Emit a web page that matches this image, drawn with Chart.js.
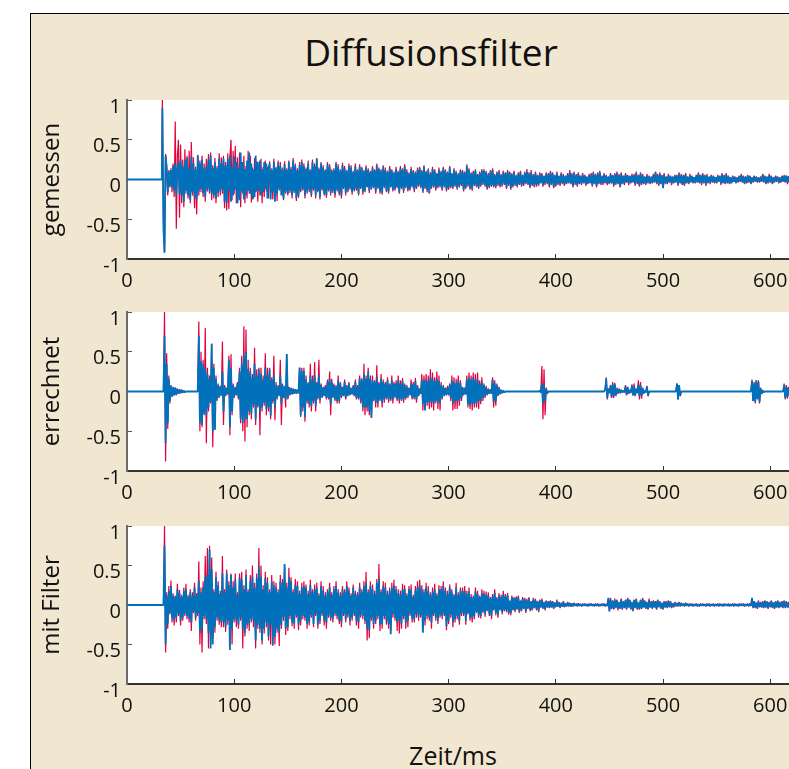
<!DOCTYPE html>
<html>
<head>
<meta charset="utf-8">
<title>Diffusionsfilter</title>
<script src="https://cdn.jsdelivr.net/npm/chart.js@4"></script>
<style>
    html, body { margin: 0; width: 789px; height: 769px; overflow: hidden; background: #fff; }
    #frame { position: absolute; left: 30px; top: 13px; width: 800px; height: 800px; background: #f1e6cf; border: 1px solid #000; }
    #heading { position: absolute; left: 231px; width: 400px; top: 26px; text-align: center; font: 37px "Open Sans", sans-serif; color: #111; }
    #xlabel { position: absolute; left: 353px; width: 200px; top: 738px; text-align: center; font: 25px "Open Sans", sans-serif; color: #111; }
    canvas { position: absolute; left: 31px; }
</style>
</head>
<body>
<div id="frame"></div>
<div id="heading">Diffusionsfilter</div>
<canvas id="panel1" width="758" height="209" style="top:90px"></canvas>
<canvas id="panel2" width="758" height="209" style="top:302px"></canvas>
<canvas id="panel3" width="758" height="209" style="top:516px"></canvas>
<div id="xlabel">Zeit/ms</div>
<script>
// samples, one per ms from 33 ms on, silence before that
// each row below is 20 ms
const START_MS = 33;
const STEP_MS = 1;
const xTicks = [0, 100, 200, 300, 400, 500, 600];
const panelNames = ['gemessen', 'errechnet', 'mit Filter'];

const measuredRed = [
    1,-.5,-.92,.32,.18,-.2,.12,-.1,.14,-.16,.2,-.22,.73,-.62,.3,.5,-.48,.44,-.3,.25,
    -.35,.38,-.18,.3,-.24,.36,-.3,.47,-.2,.28,-.36,.16,-.44,.31,-.2,.24,-.16,.3,-.22,.2,
    -.28,.26,-.15,.32,-.18,.34,-.26,.18,-.24,.27,-.3,.17,-.22,.33,-.2,.28,-.18,.3,-.36,.22,
    -.39,.33,-.37,.28,.5,-.26,.36,-.18,.42,-.3,.28,-.16,.34,-.35,.22,-.18,.3,-.3,.17,-.24,
    .36,-.18,.3,-.29,.15,-.24,.27,-.16,.23,-.28,.14,-.2,.26,-.3,.16,-.22,.24,-.15,.16,-.24,
    .23,-.18,.14,-.25,.26,-.2,.16,-.27,.24,-.14,.22,-.16,.15,-.26,.23,-.18,.14,-.2,.24,-.17,
    .16,-.24,.27,-.17,.2,-.27,.14,-.23,.22,-.16,.25,-.14,.2,-.24,.15,-.18,.24,-.16,.13,-.22,
    .25,-.14,.2,-.24,.27,-.16,.15,-.25,.22,-.14,.18,-.2,.13,-.23,.22,-.15,.19,-.2,.13,-.17,
    .14,-.23,.22,-.15,.19,-.2,.13,-.24,.21,-.12,.17,-.2,.12,-.16,.2,-.13,.18,-.19,.11,-.15,
    .2,-.14,.13,-.2,.19,-.12,.16,-.19,.12,-.16,.18,-.1,.14,-.17,.11,-.13,.17,-.11,.13,-.18,
    .2,-.12,.15,-.18,.13,-.19,.18,-.11,.15,-.16,.11,-.18,.17,-.1,.13,-.15,.1,-.14,.16,-.11,
    .11,-.18,.17,-.12,.14,-.17,.19,-.11,.13,-.15,.09,-.14,.16,-.1,.12,-.16,.1,-.12,.15,-.09,
    .16,-.11,.12,-.17,.18,-.12,.11,-.16,.14,-.18,.09,-.12,.16,-.1,.13,-.14,.08,-.11,.15,-.1,
    .11,-.14,.16,-.1,.13,-.15,.1,-.13,.17,-.11,.08,-.12,.14,-.09,.11,-.13,.08,-.1,.13,-.08,
    .12,-.15,.1,-.12,.19,-.09,.14,-.13,.09,-.14,.11,-.08,.13,-.1,.07,-.12,.1,-.09,.13,-.07,
    .13,-.09,.11,-.13,.08,-.11,.12,-.09,.14,-.1,.07,-.11,.1,-.08,.12,-.1,.07,-.09,.11,-.07,
    .09,-.12,.12,-.08,.1,-.13,.08,-.1,.11,-.08,.06,-.1,.09,-.07,.11,-.09,.06,-.08,.1,-.06,
    .13,-.07,.09,-.11,.12,-.08,.07,-.1,.1,-.09,.06,-.08,.09,-.05,.08,-.09,.05,-.07,.09,-.06,
    .08,-.1,.11,-.07,.09,-.11,.06,-.09,.1,-.07,.05,-.08,.09,-.06,.07,-.08,.05,-.06,.08,-.05,
    .12,-.06,.08,-.1,.1,-.07,.07,-.09,.09,-.06,.05,-.07,.08,-.05,.06,-.08,.04,-.06,.07,-.05,
    .08,-.09,.1,-.06,.07,-.1,.09,-.06,.11,-.07,.05,-.07,.08,-.05,.06,-.07,.04,-.06,.08,-.05,
    .06,-.09,.08,-.07,.1,-.06,.07,-.1,.09,-.06,.05,-.07,.08,-.04,.06,-.07,.05,-.05,.07,-.04,
    .07,-.08,.1,-.06,.06,-.09,.09,-.07,.07,-.06,.04,-.07,.07,-.05,.05,-.06,.04,-.05,.07,-.04,
    .1,-.06,.07,-.08,.09,-.06,.06,-.08,.08,-.06,.04,-.06,.07,-.04,.05,-.07,.04,-.05,.06,-.04,
    .06,-.08,.09,-.05,.07,-.07,.06,-.08,.08,-.05,.04,-.06,.07,-.04,.05,-.05,.03,-.05,.06,-.04,
    .09,-.05,.06,-.07,.08,-.05,.06,-.08,.07,-.05,.04,-.06,.06,-.04,.05,-.05,.03,-.05,.06,-.03,
    .05,-.07,.08,-.05,.06,-.06,.08,-.05,.05,-.06,.03,-.05,.05,-.03,.04,-.05,.03,-.04,.05,-.03,
    .07,-.04,.05,-.06,.04,-.05,.06,-.04,.05,-.06,.03,-.04,.05,-.03,.04,-.04,.03,-.04,.04,-.03,
    .07,-.04,.05,-.06,.04,-.05,.07,-.04,.05,-.06,.03,-.04,.05,-.03,.04,-.05,.03,-.04,.05,-.03,
    .06,-.04,.05,-.06,.04,-.05
];
const measuredBlue = [
    .9,-.62,-.92,.3,.14,-.16,.1,-.08,.12,-.1,.17,-.14,.2,-.2,.13,.22,-.18,.24,-.2,.16,
    -.28,.24,-.14,.27,-.2,.13,-.26,.29,-.16,.2,-.22,.12,-.25,.3,-.15,.2,-.12,.25,-.17,.14,
    -.22,.16,-.12,.25,-.15,.3,-.18,.14,-.2,.22,-.24,.14,-.17,.27,-.15,.2,-.13,.26,-.28,.18,
    -.3,.26,-.14,.3,-.28,.15,-.2,.29,-.13,.22,-.3,.14,-.26,.34,-.15,.22,-.25,.13,-.2,.24,
    -.14,.34,-.18,.2,-.25,.13,-.22,.3,-.15,.22,-.14,.24,-.2,.13,-.16,.22,-.12,.2,-.24,.14,
    .2,-.25,.12,-.16,.22,-.28,.14,-.18,.21,-.12,.17,-.2,.13,-.24,.19,-.15,.12,-.18,.22,-.14,
    .13,-.2,.24,-.15,.17,-.24,.12,-.2,.18,-.14,.22,-.12,.17,-.2,.13,-.15,.2,-.13,.11,-.19,
    .22,-.12,.17,-.2,.26,-.14,.13,-.22,.2,-.12,.15,-.18,.11,-.2,.19,-.13,.16,-.17,.11,-.14,
    .12,-.19,.2,-.13,.16,-.17,.11,-.2,.18,-.1,.14,-.17,.1,-.14,.17,-.11,.15,-.16,.09,-.13,
    .17,-.12,.11,-.18,.16,-.1,.14,-.16,.1,-.14,.15,-.09,.12,-.14,.09,-.11,.14,-.09,.11,-.15,
    .18,-.1,.13,-.15,.11,-.17,.16,-.09,.12,-.14,.09,-.15,.14,-.09,.11,-.13,.08,-.12,.13,-.09,
    .09,-.16,.14,-.1,.12,-.14,.17,-.09,.1,-.13,.07,-.12,.13,-.08,.1,-.13,.08,-.1,.12,-.07,
    .14,-.09,.1,-.15,.16,-.1,.09,-.13,.12,-.17,.07,-.1,.13,-.08,.11,-.12,.07,-.09,.12,-.08,
    .09,-.12,.14,-.08,.11,-.13,.08,-.11,.15,-.09,.07,-.1,.12,-.07,.09,-.11,.06,-.08,.11,-.06,
    .1,-.13,.08,-.1,.17,-.07,.12,-.11,.07,-.12,.09,-.06,.11,-.08,.06,-.1,.08,-.07,.11,-.05,
    .11,-.07,.09,-.11,.06,-.09,.1,-.07,.12,-.08,.05,-.09,.08,-.06,.1,-.08,.05,-.07,.09,-.05,
    .07,-.1,.1,-.06,.08,-.11,.06,-.08,.09,-.06,.04,-.08,.07,-.05,.09,-.07,.05,-.06,.08,-.04,
    .1,-.06,.07,-.09,.09,-.06,.05,-.08,.08,-.06,.04,-.06,.07,-.04,.06,-.07,.04,-.05,.07,-.04,
    .06,-.08,.09,-.05,.07,-.09,.05,-.07,.08,-.05,.04,-.06,.07,-.04,.05,-.06,.04,-.05,.06,-.04,
    .09,-.05,.06,-.08,.08,-.05,.05,-.07,.07,-.05,.04,-.05,.06,-.04,.05,-.06,.03,-.05,.05,-.04,
    .06,-.07,.08,-.05,.05,-.08,.07,-.05,.09,-.05,.04,-.05,.06,-.04,.05,-.05,.03,-.05,.06,-.04,
    .05,-.07,.06,-.05,.08,-.05,.05,-.09,.07,-.05,.04,-.05,.06,-.03,.05,-.05,.04,-.04,.05,-.03,
    .05,-.06,.08,-.04,.05,-.07,.07,-.05,.05,-.05,.03,-.05,.05,-.04,.04,-.05,.03,-.04,.05,-.03,
    .09,-.04,.05,-.06,.07,-.05,.05,-.11,.06,-.04,.03,-.05,.05,-.03,.04,-.05,.03,-.04,.05,-.03,
    .05,-.06,.07,-.04,.05,-.06,.05,-.06,.06,-.04,.03,-.05,.05,-.03,.04,-.04,.03,-.04,.05,-.03,
    .07,-.04,.05,-.05,.06,-.04,.05,-.06,.05,-.04,.03,-.04,.05,-.03,.04,-.04,.03,-.04,.04,-.02,
    .04,-.05,.06,-.04,.05,-.05,.06,-.04,.04,-.05,.02,-.04,.04,-.03,.03,-.04,.02,-.03,.04,-.02,
    .05,-.03,.04,-.05,.03,-.04,.05,-.03,.04,-.05,.02,-.03,.04,-.02,.03,-.03,.02,-.03,.03,-.02,
    .06,-.03,.04,-.05,.03,-.04,.05,-.03,.04,-.05,.02,-.03,.04,-.02,.03,-.04,.02,-.03,.04,-.02,
    .04,-.03,.05,-.03,.04,-.04
];

const computedRed = [
    0,0,1,-.88,.48,-.47,.2,-.15,.08,-.07,.06,-.05,.05,-.05,.04,-.03,.03,-.02,.02,-.02,
    .01,-.01,0,0,0,0,0,0,0,0,0,0,0,0,.88,-.5,.5,-.45,.4,-.3,
    .8,-.65,.3,-.25,.2,-.15,.6,-.7,.35,-.48,.2,-.12,.1,-.08,.07,-.05,.63,-.42,.08,-.06,
    .05,-.04,.45,-.55,.47,-.3,.1,-.08,.06,-.05,.12,-.1,.3,-.4,.45,-.5,.82,-.63,.78,-.45,
    .4,-.3,.3,-.35,.22,-.2,.55,-.42,.28,-.2,.3,-.55,.3,-.25,.2,-.18,.48,-.3,.3,-.25,
    .3,-.35,.18,-.15,.45,-.36,.12,-.1,.08,-.06,.4,-.42,.1,-.08,.07,-.2,.47,-.1,.06,-.05,
    .05,-.04,.04,-.03,.03,-.03,.02,-.02,.3,-.32,.3,-.25,.3,-.38,.2,-.15,.12,-.2,.35,-.25,
    .2,-.15,.37,-.25,.12,-.1,.4,-.15,.1,-.08,.06,-.06,.08,-.1,.15,-.1,.25,-.3,.16,-.08,
    .1,-.12,.08,-.15,.2,-.15,.12,-.08,.06,-.06,.15,-.1,.08,-.06,.12,-.05,.05,-.04,.08,-.06,
    .15,-.1,.08,-.1,.2,-.15,.17,-.25,.35,-.3,.2,-.25,.3,-.3,.2,-.33,.2,-.12,.14,-.2,
    .33,-.2,.12,-.12,.22,-.2,.15,-.14,.12,-.1,.18,-.14,.1,-.12,.2,-.15,.12,-.08,.14,-.12,
    .2,-.15,.14,-.12,.17,-.14,.1,-.1,.08,-.08,.05,-.05,.15,-.1,.12,-.1,.17,-.14,.08,-.06,
    .04,-.03,.22,-.24,.2,-.16,.22,-.18,.2,-.22,.28,-.2,.24,-.24,.18,-.15,.25,-.22,.2,-.24,
    .12,-.1,.08,-.06,.05,-.05,.07,-.05,.1,-.12,.2,-.24,.18,-.22,.16,-.22,.2,-.18,.14,-.12,
    .06,-.05,.05,-.04,.2,-.2,.24,-.22,.2,-.24,.24,-.2,.22,-.2,.24,-.22,.14,-.16,.18,-.12,
    .1,-.08,.07,-.05,.04,-.03,.03,-.03,.18,-.2,.14,-.18,.1,-.06,.06,-.04,.02,-.02,.01,-.01,
    0,0,0,0,0,0,0,0,0,0,0,0,0,0,0,0,0,0,0,0,
    0,0,0,0,0,0,0,0,0,0,0,0,.01,-.02,.32,-.35,.28,-.3,.05,-.03,
    0,0,0,0,0,0,0,0,0,0,0,0,0,0,0,0,0,0,0,0,
    0,0,0,0,0,0,0,0,0,0,0,0,0,0,0,0,0,0,0,0,
    0,0,0,0,0,0,0,0,0,0,0,0,0,.02,.18,-.1,.04,-.02,.08,-.08,
    .12,-.08,.11,-.06,.05,-.03,.04,-.02,.02,-.01,.01,-.01,.08,-.05,.06,-.03,.02,-.02,.09,-.05,
    .1,-.06,.04,-.02,.14,-.1,.12,-.09,.05,-.03,.01,-.01,.07,-.06,0,0,0,0,0,0,
    0,0,0,0,0,0,0,0,0,0,0,0,0,0,0,0,0,0,0,0,
    .1,-.1,.08,-.06,0,0,0,0,0,0,0,0,0,0,0,0,0,0,0,0,
    0,0,0,0,0,0,0,0,0,0,0,0,0,0,0,0,0,0,0,0,
    0,0,0,0,0,0,0,0,0,0,0,0,0,0,0,0,0,0,0,0,
    0,0,0,0,0,0,0,0,0,0,.15,-.12,.12,-.15,.14,-.1,.14,-.15,.05,-.03,
    .02,-.01,0,0,0,0,0,0,0,0,0,0,0,0,0,0,0,0,0,0,
    .1,-.1,.08,-.09,.06,-.06
];
const computedBlue = [
    0,0,.7,-.65,.35,-.4,.16,-.12,.07,-.06,.05,-.05,.05,-.04,.03,-.03,.02,-.02,.02,-.01,
    .01,-.01,0,0,0,0,0,0,0,0,0,0,0,0,.7,-.4,.38,-.42,.35,-.28,
    .3,-.3,.22,-.2,.16,-.13,.6,-.5,.3,-.48,.16,-.1,.08,-.07,.06,-.05,.25,-.25,.06,-.05,
    .04,-.03,.4,-.45,.3,-.25,.08,-.06,.05,-.04,.1,-.08,.25,-.35,.35,-.4,.45,-.35,.5,-.35,
    .28,-.25,.25,-.28,.18,-.16,.35,-.35,.2,-.18,.28,-.25,.22,-.2,.15,-.14,.3,-.22,.2,-.2,
    .28,-.3,.14,-.12,.2,-.2,.08,-.08,.06,-.05,.2,-.15,.08,-.07,.06,-.1,.47,-.08,.05,-.04,
    .04,-.03,.03,-.03,.03,-.02,.02,-.02,.3,-.3,.26,-.2,.26,-.32,.15,-.12,.1,-.16,.2,-.18,
    .14,-.12,.2,-.18,.1,-.08,.2,-.1,.08,-.07,.05,-.05,.06,-.08,.12,-.08,.16,-.16,.12,-.07,
    .08,-.1,.06,-.12,.14,-.12,.1,-.06,.05,-.05,.12,-.08,.06,-.05,.1,-.04,.04,-.03,.06,-.05,
    .12,-.08,.06,-.08,.16,-.12,.14,-.2,.22,-.2,.16,-.2,.25,-.25,.16,-.33,.14,-.1,.12,-.14,
    .18,-.14,.1,-.1,.16,-.14,.12,-.1,.1,-.08,.14,-.1,.08,-.1,.14,-.1,.1,-.06,.1,-.1,
    .14,-.1,.1,-.1,.13,-.1,.08,-.08,.06,-.06,.04,-.04,.1,-.08,.09,-.08,.13,-.1,.06,-.05,
    .03,-.03,.14,-.16,.15,-.24,.14,-.13,.13,-.14,.18,-.14,.16,-.15,.13,-.12,.16,-.14,.13,-.14,
    .08,-.08,.06,-.05,.04,-.04,.05,-.04,.08,-.08,.14,-.15,.12,-.12,.1,-.12,.14,-.12,.1,-.08,
    .05,-.04,.04,-.03,.15,-.16,.18,-.18,.15,-.15,.18,-.16,.15,-.15,.14,-.12,.1,-.12,.12,-.08,
    .08,-.06,.05,-.04,.03,-.03,.02,-.02,.15,-.13,.1,-.12,.08,-.05,.05,-.03,.02,-.02,.01,-.01,
    0,0,0,0,0,0,0,0,0,0,0,0,0,0,0,0,0,0,0,0,
    0,0,0,0,0,0,0,0,0,0,0,0,.01,-.01,.1,-.15,.08,-.12,.03,-.02,
    0,0,0,0,0,0,0,0,0,0,0,0,0,0,0,0,0,0,0,0,
    0,0,0,0,0,0,0,0,0,0,0,0,0,0,0,0,0,0,0,0,
    0,0,0,0,0,0,0,0,0,0,0,0,0,.02,.16,-.08,.03,-.02,.07,-.07,
    .09,-.06,.09,-.05,.03,-.02,.03,-.02,.02,-.01,.01,-.01,.06,-.04,.05,-.02,.02,-.01,.07,-.05,
    .07,-.05,.03,-.02,.08,-.06,.08,-.05,.04,-.02,.01,-.01,.06,-.05,0,0,0,0,0,0,
    0,0,0,0,0,0,0,0,0,0,0,0,0,0,0,0,0,0,0,0,
    .1,-.1,.08,-.05,0,0,0,0,0,0,0,0,0,0,0,0,0,0,0,0,
    0,0,0,0,0,0,0,0,0,0,0,0,0,0,0,0,0,0,0,0,
    0,0,0,0,0,0,0,0,0,0,0,0,0,0,0,0,0,0,0,0,
    0,0,0,0,0,0,0,0,0,0,.13,-.12,.1,-.13,.14,-.09,.12,-.13,.04,-.03,
    .01,-.01,0,0,0,0,0,0,0,0,0,0,0,0,0,0,0,0,0,0,
    .08,-.08,.06,-.07,.05,-.05
];

const filteredRed = [
    0,0,1,-.6,.16,-.3,.24,-.12,.31,-.22,.15,-.26,.12,-.22,.27,-.14,.19,-.26,.13,-.2,
    .22,-.14,.27,-.18,.13,-.22,.2,-.33,.16,-.1,.28,-.2,.15,-.14,.55,-.5,.22,-.6,.3,-.18,
    .62,-.24,.72,-.55,.75,-.3,.6,-.42,.2,-.35,.42,-.2,.3,-.25,.18,-.28,.62,-.28,.2,-.34,
    .45,-.25,.3,-.2,.4,-.5,.3,-.22,.4,-.28,.16,-.3,.4,-.2,.42,-.55,.25,-.4,.45,-.3,
    .2,-.33,.38,-.22,.5,-.28,.28,-.55,.4,-.3,.72,-.35,.5,-.5,.25,-.36,.42,-.28,.35,-.45,
    .2,-.5,.38,-.52,.3,-.5,.28,-.35,.2,-.52,.38,-.3,.33,-.2,.5,-.38,.28,-.33,.47,-.18,
    .35,-.27,.2,-.3,.33,-.16,.3,-.32,.18,-.26,.28,-.18,.3,-.2,.26,-.3,.18,-.26,.32,-.16,
    .2,-.28,.26,-.14,.28,-.3,.15,-.24,.3,-.14,.24,-.26,.16,-.3,.2,-.16,.28,-.2,.16,-.22,
    .24,-.14,.3,-.18,.2,-.24,.16,-.28,.24,-.14,.2,-.22,.3,-.16,.22,-.26,.15,-.2,.26,-.14,
    .18,-.26,.16,-.3,.28,-.16,.2,-.18,.3,-.24,.42,-.45,.2,-.42,.3,-.2,.26,-.3,.18,-.24,
    .33,-.18,.52,-.33,.2,-.3,.3,-.18,.28,-.25,.18,-.3,.22,-.33,.28,-.16,.32,-.2,.24,-.33,
    .2,-.36,.18,-.3,.27,-.18,.25,-.3,.15,-.28,.24,-.14,.26,-.22,.13,-.22,.24,-.16,.3,-.2,
    .32,-.16,.25,-.33,.2,-.26,.28,-.18,.24,-.2,.16,-.3,.22,-.14,.27,-.2,.15,-.24,.25,-.16,
    .24,-.18,.3,-.14,.22,-.32,.18,-.24,.26,-.16,.2,-.28,.14,-.22,.28,-.18,.16,-.25,.22,-.14,
    .22,-.14,.24,-.25,.18,-.12,.22,-.2,.14,-.22,.12,-.18,.22,-.1,.18,-.16,.12,-.17,.2,-.1,
    .18,-.15,.17,-.08,.16,-.14,.1,-.18,.14,-.07,.2,-.13,.1,-.16,.15,-.07,.13,-.12,.18,-.08,
    .14,-.09,.15,-.12,.06,-.13,.12,-.07,.1,-.09,.11,-.06,.12,-.1,.06,-.08,.1,-.05,.09,-.1,
    .08,-.05,.1,-.08,.05,-.07,.09,-.04,.08,-.07,.05,-.09,.07,-.03,.08,-.05,.04,-.07,.06,-.03,
    .05,-.04,.06,-.03,.05,-.05,.03,-.03,.07,-.02,.04,-.04,.03,-.02,.05,-.03,.02,-.02,.04,-.02,
    .03,-.02,.02,-.02,.03,-.01,.02,-.02,.02,-.01,.01,-.02,.02,-.01,.02,-.01,.01,-.02,.02,-.01,
    .02,-.01,.01,-.02,.02,-.01,.02,-.02,.01,-.01,.02,-.01,.02,-.02,.01,-.01,.08,-.08,.09,-.05,
    .06,-.06,.08,-.04,.07,-.07,.04,-.05,.08,-.06,.05,-.04,.07,-.06,.09,-.03,.07,-.06,.04,-.08,
    .07,-.04,.08,-.06,.03,-.06,.07,-.05,.09,-.03,.06,-.05,.04,-.06,.08,-.03,.05,-.05,.06,-.03,
    .05,-.06,.07,-.03,.05,-.05,.03,-.06,.05,-.03,.05,-.04,.06,-.03,.05,-.04,.02,-.03,.04,-.02,
    .03,-.02,.04,-.02,.03,-.01,.02,-.02,.03,-.01,.02,-.02,.02,-.01,.02,-.02,.01,-.01,.02,-.02,
    .01,-.02,.02,-.01,.02,-.01,.01,-.02,.02,-.01,.02,-.02,.01,-.01,.02,-.02,.01,-.01,.02,-.02,
    .02,-.01,.01,-.02,.02,-.01,.01,-.01,.02,-.02,.01,-.01,.02,-.02,.02,-.01,.01,-.02,.02,-.01,
    .02,-.01,.02,-.02,.01,-.01,.02,-.02,.02,-.01,.08,-.04,.05,-.04,.03,-.05,.06,-.03,.04,-.03,
    .05,-.04,.06,-.03,.05,-.05,.04,-.03,.06,-.04,.03,-.05,.05,-.03,.06,-.04,.04,-.03,.05,-.04,
    .06,-.04,.05,-.03,.04,-.05,.06,-.03,.05,-.04
];
const filteredBlue = [
    0,0,.75,-.5,.12,-.24,.18,-.1,.24,-.16,.12,-.2,.1,-.16,.2,-.11,.15,-.2,.1,-.16,
    .18,-.11,.2,-.14,.1,-.17,.16,-.22,.12,-.08,.22,-.16,.12,-.1,.3,-.35,.16,-.3,.22,-.14,
    .35,-.18,.38,-.35,.7,-.55,.45,-.5,.16,-.28,.35,-.16,.25,-.2,.14,-.22,.4,-.22,.16,-.28,
    .4,-.2,.25,-.57,.38,-.3,.22,-.18,.32,-.2,.12,-.25,.35,-.16,.32,-.3,.2,-.35,.38,-.25,
    .16,-.25,.3,-.18,.36,-.2,.22,-.45,.34,-.25,.48,-.3,.36,-.45,.2,-.3,.34,-.22,.28,-.4,
    .16,-.25,.3,-.5,.25,-.4,.22,-.3,.16,-.35,.3,-.25,.28,-.15,.52,-.3,.22,-.28,.35,-.14,
    .3,-.22,.16,-.24,.26,-.13,.24,-.25,.14,-.2,.22,-.14,.24,-.16,.22,-.24,.14,-.22,.25,-.13,
    .16,-.24,.2,-.11,.22,-.25,.12,-.2,.24,-.11,.18,-.2,.12,-.22,.16,-.13,.22,-.16,.13,-.18,
    .2,-.11,.24,-.14,.16,-.2,.12,-.22,.2,-.11,.16,-.18,.24,-.13,.18,-.2,.12,-.16,.22,-.11,
    .14,-.2,.13,-.22,.22,-.13,.16,-.14,.24,-.2,.28,-.3,.16,-.32,.24,-.16,.2,-.24,.14,-.2,
    .28,-.14,.33,-.25,.16,-.24,.24,-.14,.22,-.2,.14,-.24,.18,-.37,.22,-.12,.25,-.16,.2,-.22,
    .15,-.2,.14,-.24,.2,-.14,.2,-.22,.12,-.2,.2,-.11,.2,-.17,.1,-.18,.18,-.12,.22,-.15,
    .25,-.13,.2,-.35,.16,-.2,.22,-.14,.18,-.16,.13,-.22,.16,-.11,.2,-.16,.12,-.2,.2,-.13,
    .2,-.14,.24,-.12,.18,-.27,.14,-.2,.22,-.12,.16,-.22,.12,-.18,.22,-.14,.13,-.2,.18,-.11,
    .18,-.11,.18,-.2,.14,-.1,.17,-.16,.1,-.17,.1,-.14,.17,-.08,.14,-.13,.1,-.14,.15,-.08,
    .14,-.12,.13,-.07,.12,-.11,.08,-.14,.11,-.06,.15,-.1,.08,-.13,.12,-.06,.1,-.09,.14,-.07,
    .11,-.07,.12,-.1,.05,-.1,.1,-.06,.08,-.07,.09,-.05,.1,-.08,.05,-.06,.08,-.04,.07,-.08,
    .06,-.04,.08,-.06,.04,-.06,.07,-.03,.06,-.05,.04,-.07,.06,-.03,.06,-.04,.03,-.05,.05,-.03,
    .04,-.03,.05,-.03,.04,-.04,.03,-.02,.05,-.02,.03,-.03,.02,-.02,.04,-.02,.02,-.02,.03,-.01,
    .02,-.02,.02,-.01,.02,-.01,.01,-.01,.02,-.01,.01,-.01,.01,-.01,.01,-.01,.01,-.01,.01,-.01,
    .01,-.01,.01,-.01,.01,-.01,.01,-.01,.01,-.01,.01,-.01,.01,-.01,.01,-.01,.09,-.08,.07,-.04,
    .05,-.05,.06,-.03,.06,-.05,.03,-.04,.07,-.05,.04,-.03,.06,-.05,.08,-.03,.06,-.05,.03,-.07,
    .06,-.03,.07,-.05,.03,-.05,.06,-.04,.07,-.03,.05,-.04,.03,-.05,.06,-.03,.04,-.04,.05,-.03,
    .04,-.05,.06,-.02,.04,-.04,.02,-.05,.04,-.03,.04,-.03,.05,-.02,.04,-.03,.02,-.02,.03,-.01,
    .02,-.01,.03,-.01,.02,-.01,.01,-.01,.02,-.01,.01,-.01,.01,-.01,.01,-.01,.01,-.01,.01,-.01,
    .01,-.01,.01,-.01,.01,-.01,.01,-.01,.01,-.01,.01,-.01,.01,-.01,.01,-.01,.01,-.01,.01,-.01,
    .01,-.01,.01,-.01,.01,-.01,.01,-.01,.01,-.01,.01,-.01,.01,-.01,.01,-.01,.01,-.01,.01,-.01,
    .01,-.01,.01,-.01,.01,-.01,.01,-.01,.01,-.01,.09,-.03,.05,-.03,.03,-.04,.04,-.02,.03,-.03,
    .04,-.03,.05,-.03,.04,-.04,.03,-.02,.05,-.03,.03,-.04,.04,-.03,.05,-.03,.03,-.02,.04,-.03,
    .05,-.03,.04,-.03,.03,-.04,.05,-.02,.04,-.03
];

const RED = '#e3003b';
const BLUE = '#0071ba';

function toPoints(values) {
    const silence = [{ x: 0, y: 0 }, { x: START_MS - 0.5, y: 0 }];
    return silence.concat(values.map((y, i) => ({ x: START_MS + i * STEP_MS, y })));
}

const whitePlot = {
    id: 'whitePlot',
    beforeDraw(chart) {
        const a = chart.chartArea;
        chart.ctx.fillStyle = '#fff';
        chart.ctx.fillRect(a.left, a.top, a.width, a.height);
    }
};

function dropPadding(scale) {
    scale.paddingTop = scale.paddingBottom = scale.paddingLeft = scale.paddingRight = 0;
}

function drawPanel(id, name, red, blue, plotHeight) {
    new Chart(document.getElementById(id), {
        type: 'line',
        data: {
            // first dataset is painted last
            datasets: [
                { data: toPoints(blue), borderColor: BLUE, borderWidth: 1.8, borderJoinStyle: 'bevel', pointRadius: 0, tension: 0 },
                { data: toPoints(red), borderColor: RED, borderWidth: 1.2, borderJoinStyle: 'bevel', pointRadius: 0, tension: 0 }
            ]
        },
        plugins: [whitePlot],
        options: {
            responsive: false,
            animation: false,
            layout: { padding: { top: 10, right: 0, bottom: 0, left: 0 } },
            plugins: { legend: { display: false }, tooltip: { enabled: false } },
            scales: {
                x: {
                    type: 'linear',
                    min: 0,
                    max: 617.5,
                    afterBuildTicks: scale => { scale.ticks = xTicks.map(value => ({ value })); },
                    afterFit: scale => { scale.height = 209 - 10 - plotHeight; dropPadding(scale); },
                    border: { color: '#333', width: 2 },
                    grid: { drawOnChartArea: false, tickLength: -5, tickColor: '#333' },
                    ticks: { padding: 15, maxRotation: 0, color: '#111', font: { family: 'Open Sans', size: 20 } }
                },
                y: {
                    min: -1,
                    max: 1,
                    afterFit: scale => { scale.width = 96; dropPadding(scale); },
                    border: { color: '#6b6b6b', width: 2 },
                    grid: { drawOnChartArea: false, tickLength: -5, tickColor: '#555' },
                    title: { display: true, text: name, color: '#111', padding: { top: 7, bottom: 0 }, font: { family: 'Open Sans', size: 24 } },
                    ticks: { stepSize: 0.5, padding: 11, labelOffset: 7, color: '#111', font: { family: 'Open Sans', size: 20 }, callback: v => String(v) }
                }
            }
        }
    });
}

drawPanel('panel1', panelNames[0], measuredRed, measuredBlue, 159);
drawPanel('panel2', panelNames[1], computedRed, computedBlue, 159);
drawPanel('panel3', panelNames[2], filteredRed, filteredBlue, 158);
</script>
</body>
</html>
